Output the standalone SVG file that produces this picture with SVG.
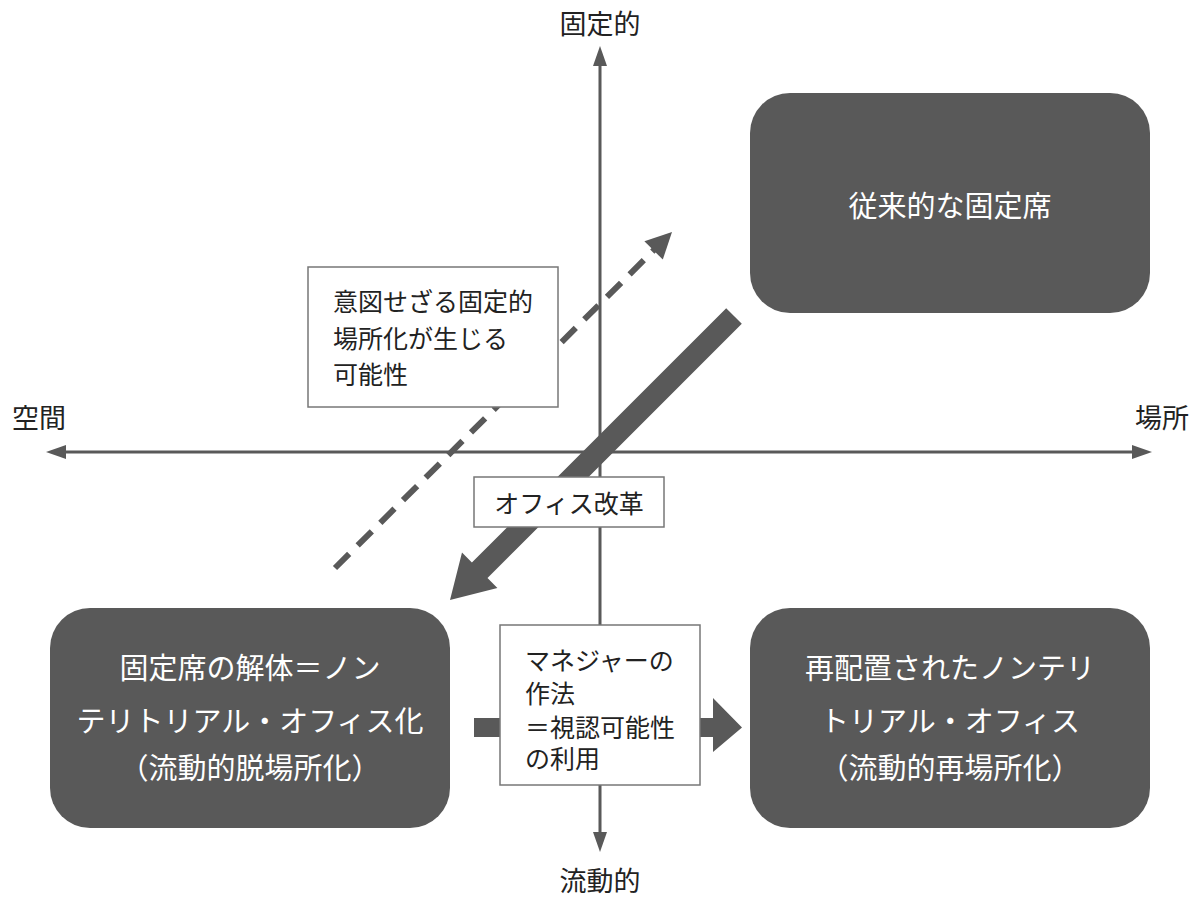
<svg xmlns="http://www.w3.org/2000/svg" width="1200" height="900" viewBox="0 0 1200 900">
<style>
text{font-family:"Noto Sans CJK JP","Noto Sans",sans-serif;fill:#222}
.dark rect{fill:#595959}
.dark text{fill:#fff;font-size:29px;text-anchor:middle}
.lbl rect{fill:#fff;stroke:#777;stroke-width:1.5}
.lbl text{font-size:25px}
.ax{stroke:#595959;stroke-width:3;fill:none}
.axl{font-size:27px;text-anchor:middle}
</style>
<rect width="1200" height="900" fill="#fff"/>
<g id="connectors">
<line class="ax" x1="600" y1="62" x2="600" y2="836"/>
<polygon points="600,46 593,66 607,66" fill="#595959"/>
<polygon points="600,852 593,832 607,832" fill="#595959"/>
<line class="ax" x1="62" y1="452" x2="1136" y2="452"/>
<polygon points="46,452 66,445 66,459" fill="#595959"/>
<polygon points="1152,452 1132,445 1132,459" fill="#595959"/>
<line x1="335" y1="568" x2="656" y2="248" stroke="#595959" stroke-width="6" stroke-dasharray="20,12"/>
<polygon points="672,232 662.8,259.6 644.4,241.2" fill="#595959"/>
<polygon points="726.2,308.2 741.8,323.8 487.5,578.1 497.4,588 450,600 462,552.6 471.9,562.5" fill="#595959"/>
<rect x="474" y="718" width="30" height="19" fill="#595959"/>
<polygon points="696,718 713,718 713,698 742,727.5 713,752 713,737 696,737" fill="#595959"/>
</g>
<text class="axl" x="600" y="34">固定的</text>
<text class="axl" x="600" y="891">流動的</text>
<text class="axl" x="39" y="428">空間</text>
<text class="axl" x="1162" y="428">場所</text>
<g id="n1" class="dark">
<rect x="750" y="93" width="400" height="220" rx="40"/>
<text x="950" y="217">従来的な固定席</text>
</g>
<g id="n2" class="dark">
<rect x="50" y="608" width="400" height="220" rx="40"/>
<text x="250" y="679">固定席の解体＝ノン</text>
<text x="250" y="732">テリトリアル・オフィス化</text>
<text x="250" y="779">（流動的脱場所化）</text>
</g>
<g id="n3" class="dark">
<rect x="750" y="608" width="400" height="220" rx="40"/>
<text x="950" y="679">再配置されたノンテリ</text>
<text x="950" y="732">トリアル・オフィス</text>
<text x="950" y="779">（流動的再場所化）</text>
</g>
<g id="n4" class="lbl">
<rect x="308" y="267" width="250" height="140"/>
<text x="333" y="311">意図せざる固定的</text>
<text x="333" y="348">場所化が生じる</text>
<text x="333" y="384">可能性</text>
</g>
<g id="n5" class="lbl">
<rect x="474" y="477" width="190" height="50"/>
<text x="569" y="513" text-anchor="middle">オフィス改革</text>
</g>
<g id="n6" class="lbl">
<rect x="500" y="625" width="200" height="160"/>
<text x="525" y="670">マネジャーの</text>
<text x="525" y="703">作法</text>
<text x="525" y="737">＝視認可能性</text>
<text x="525" y="768">の利用</text>
</g>
</svg>
